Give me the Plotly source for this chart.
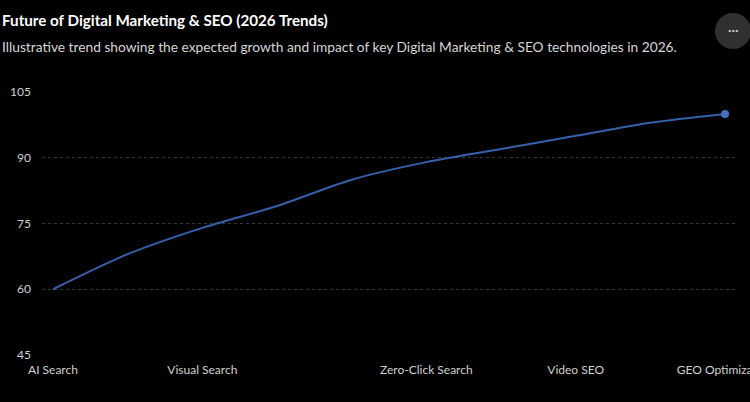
import plotly.graph_objects as go

# Data
x_index = [0, 1, 2, 3, 4, 5, 6, 7, 8, 9]
trend_values = [60, 68, 74, 79, 85, 89, 92, 95, 98, 100]
tick_positions = [0, 2, 5, 7, 9]
tick_labels = ["AI Search", "Visual Search", "Zero-Click Search", "Video SEO", "GEO Optimization"]
y_ticks = [45, 60, 75, 90, 105]

title_text = "Future of Digital Marketing & SEO (2026 Trends)"
subtitle_text = ("Illustrative trend showing the expected growth and impact of key "
                 "Digital Marketing & SEO technologies in 2026.")

W, H = 750, 402
ML, MR, MT, MB = 42, 13, 92, 47
PW = W - ML - MR
PH = H - MT - MB

FONT = "Lato"
LINE_COLOR = "#3560ac"

fig = go.Figure()
fig.add_trace(go.Scatter(
    x=x_index, y=trend_values, mode="lines",
    line=dict(color=LINE_COLOR, width=2, shape="spline", smoothing=0.8),
    hoverinfo="skip", showlegend=False,
))
fig.add_trace(go.Scatter(
    x=[x_index[-1]], y=[trend_values[-1]], mode="markers",
    marker=dict(color="#4670c0", size=8, line=dict(width=0)),
    hoverinfo="skip", showlegend=False,
))

fig.update_layout(
    width=W, height=H,
    margin=dict(l=ML, r=MR, t=MT, b=MB, autoexpand=False),
    paper_bgcolor="#000000", plot_bgcolor="#000000",
    font=dict(family=FONT, color="#d0d0d0", size=12),
    xaxis=dict(
        range=[-0.147, 9.16], tickmode="array", tickvals=tick_positions, ticktext=tick_labels,
        showgrid=False, zeroline=False, showline=False, ticks="",
        ticklabeloverflow="allow", ticklabelstandoff=6,
        tickfont=dict(size=12, color="#d0d0d0"), automargin=False,
    ),
    yaxis=dict(
        range=[45, 105], tickmode="array", tickvals=y_ticks,
        showgrid=True, gridcolor="#383838", griddash="dot", gridwidth=1,
        zeroline=False, showline=False, ticks="", ticklabelstandoff=10,
        tickfont=dict(size=12, color="#d0d0d0"), automargin=False,
    ),
    annotations=[
        dict(text="<b>" + title_text + "</b>", xref="paper", yref="paper",
             x=-ML / PW, y=1 + (MT - 20) / PH, xanchor="left", yanchor="middle",
             showarrow=False, font=dict(family=FONT, size=15.2, color="#ffffff")),
        dict(text=subtitle_text, xref="paper", yref="paper",
             x=-ML / PW, y=1 + (MT - 46) / PH, xanchor="left", yanchor="middle",
             showarrow=False, font=dict(family=FONT, size=13.75, color="#d6d6d6")),
        dict(text="\u2022\u2022\u2022", xref="paper", yref="paper",
             x=(733 - ML) / PW, y=1 + (MT - 31) / PH, xanchor="center", yanchor="middle",
             showarrow=False, font=dict(family=FONT, size=6, color="#cfcfcf")),
    ],
    shapes=[
        dict(type="circle", xref="paper", yref="paper",
             xsizemode="pixel", ysizemode="pixel",
             xanchor=(733 - ML) / PW, yanchor=1 + (MT - 31) / PH,
             x0=-18, x1=18, y0=-18, y1=18,
             fillcolor="#303030", line=dict(width=0), layer="below"),
    ],
)

fig.write_html(
    "out.html",
    config={"displayModeBar": False},
    post_script="document.body.style.margin='0';document.body.style.overflow='hidden';document.body.style.background='#000';",
)
